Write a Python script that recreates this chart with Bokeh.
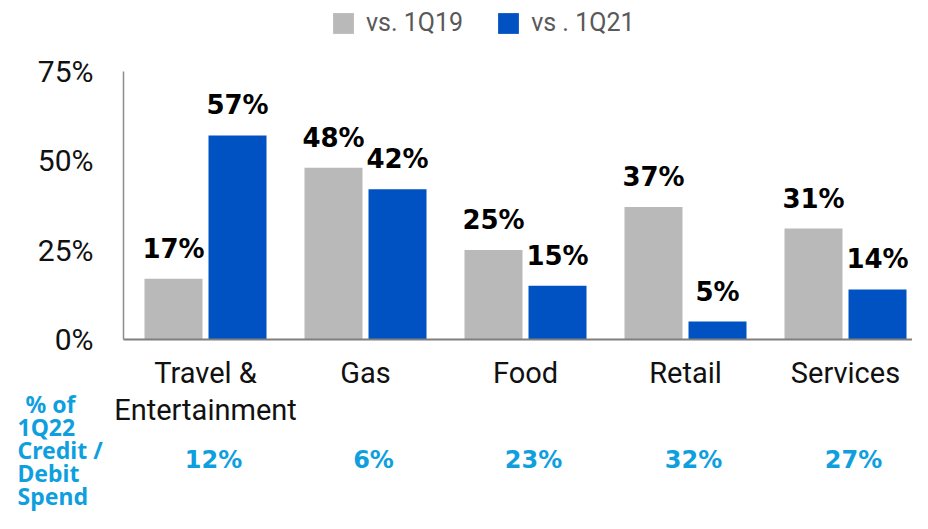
from bokeh.plotting import figure
from bokeh.models import ColumnDataSource, Range1d, FixedTicker
from bokeh.transform import dodge
from bokeh.core.properties import value
from bokeh.embed import file_html
from bokeh.resources import INLINE

# ---- data ----
categories = ["Travel &\nEntertainment", "Gas", "Food", "Retail", "Services"]
vs_1q19 = [17, 48, 25, 37, 31]
vs_1q21 = [57, 42, 15, 5, 14]
share_1q22 = [12, 6, 23, 32, 27]
series_names = ["vs. 1Q19", "vs . 1Q21"]
y_ticks = [0, 25, 50, 75]
y_tick_labels = ["0%", "25%", "50%", "75%"]
side_label_lines = ["% of", "1Q22", "Credit /", "Debit", "Spend"]

GREY = "#B9B9B9"
BLUE = "#0052C2"
LIGHT_BLUE = "#109FDE"

# ---- layout geometry (canvas pixels); the frame fills the whole canvas ----
W, H = 912, 513
AXIS_X_PX = 123        # where the value axis is drawn
ZERO_PX = 339          # where 0% lies
Y75_PX = 70.5          # where 75% lies
PPU_Y = (ZERO_PX - Y75_PX) / 75.0
PPU_X = 160.0          # pixels per category
X0_PX = 205.0          # centre of first category


def xd(px):
    return (px - X0_PX) / PPU_X


def yd(py):
    return (ZERO_PX - py) / PPU_Y


idx = list(range(len(categories)))
src = ColumnDataSource(dict(
    x=idx,
    a=vs_1q19,
    b=vs_1q21,
    a_lbl=[f"{v}%" for v in vs_1q19],
    b_lbl=[f"{v}%" for v in vs_1q21],
    s_lbl=[f"{v}%" for v in share_1q22],
))

p = figure(width=W, height=H, x_range=Range1d(xd(0), xd(W)), y_range=Range1d(yd(H), yd(0)),
           output_backend="svg", toolbar_location=None,
           min_border_left=0, min_border_right=0, min_border_top=0, min_border_bottom=0)
p.outline_line_color = None
p.xgrid.visible = False
p.ygrid.visible = False

BW = 0.3625
p.vbar(x=dodge("x", -0.2, range=p.x_range), top="a", bottom=0, width=BW, source=src,
       fill_color=GREY, line_color=None, legend_label=series_names[0])
p.vbar(x=dodge("x", 0.2, range=p.x_range), top="b", bottom=0, width=BW, source=src,
       fill_color=BLUE, line_color=None, legend_label=series_names[1])

for col, off in (("a", -0.2), ("b", 0.2)):
    p.text(x=dodge("x", off, range=p.x_range), y=col, text=col + "_lbl", source=src,
           text_align="center", text_baseline="alphabetic", y_offset=-30,
           text_font=value("DejaVu Sans"), text_font_style="bold",
           text_font_size="26px", text_color="#000000")

# legend
lg = p.legend[0]
lg.orientation = "horizontal"
lg.location = (330, H - 37)
lg.label_text_font = "Roboto"
lg.label_text_font_size = "25px"
lg.label_text_color = "#595959"
lg.glyph_width = 26
lg.glyph_height = 26
lg.label_standoff = 10
lg.spacing = 32
lg.padding = 0
lg.margin = 0
lg.border_line_color = None
lg.background_fill_alpha = 0

# y axis, drawn inside the frame
ya = p.yaxis[0]
ya.fixed_location = xd(AXIS_X_PX)
ya.ticker = FixedTicker(ticks=y_ticks)
ya.major_label_overrides = dict(zip(y_ticks, y_tick_labels))
ya.bounds = (0, 75)
ya.axis_line_color = "#8C8C8C"
ya.axis_line_width = 1.5
ya.major_tick_in = 0
ya.major_tick_out = 0
ya.minor_tick_in = 0
ya.minor_tick_out = 0
ya.major_label_standoff = 30
ya.major_label_text_font = "Roboto"
ya.major_label_text_font_size = "30px"
ya.major_label_text_color = "#111111"

# x axis, drawn inside the frame at 0%
xa = p.xaxis[0]
xa.fixed_location = 0
xa.bounds = (xd(AXIS_X_PX), xd(W))
xa.ticker = FixedTicker(ticks=idx)
xa.major_label_overrides = dict(zip(idx, categories))
xa.axis_line_color = "#7F7F7F"
xa.axis_line_width = 2
xa.major_tick_in = 0
xa.major_tick_out = 0
xa.minor_tick_in = 0
xa.minor_tick_out = 0
xa.major_label_standoff = 16
xa.major_label_text_font = "Roboto"
xa.major_label_text_font_size = "29px"
xa.major_label_text_line_height = 1.1
xa.major_label_text_color = "#111111"

# bottom row: share of 1Q22 credit / debit spend
SHARE_BASE_PX = 459
p.text(x="x", y=yd(SHARE_BASE_PX), text="s_lbl", source=src, x_offset=8,
       text_align="center", text_baseline="alphabetic",
       text_font=value("DejaVu Sans"), text_font_style="bold",
       text_font_size="24px", text_color=LIGHT_BLUE)

side_baselines = [403, 426, 449, 472, 495]
side_lefts = [25, 17, 17, 17, 17]
p.text(x=[xd(v) for v in side_lefts], y=[yd(v) for v in side_baselines],
       text=side_label_lines, text_align="left", text_baseline="alphabetic",
       text_font=value("Noto Sans"), text_font_style="bold",
       text_font_size="23px", text_color=LIGHT_BLUE)

open("out.html", "w").write(file_html(p, INLINE))
